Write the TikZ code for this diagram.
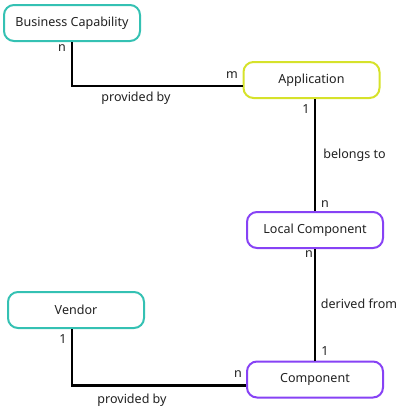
\documentclass[tikz,border=0pt]{standalone}
\usepackage{fontspec}
\setmainfont{Noto Sans}
\usetikzlibrary{positioning}

\definecolor{tealline}{HTML}{34C1B3}
\definecolor{limeline}{HTML}{D6E22A}
\definecolor{purpleline}{HTML}{8742F5}
\definecolor{labeltext}{HTML}{222222}

\tikzset{
    entity/.style={draw, line width=1.5pt, rounded corners=7.5pt, minimum width=102pt,
        minimum height=27pt, inner sep=0pt, fill=white, text=labeltext, font=\fontsize{9.4}{11}\selectfont},
    relation/.style={line width=2.2pt, black},
    tag/.style={text=labeltext, inner sep=0pt, font=\fontsize{9.4}{11}\selectfont}
}

\begin{document}
\begin{tikzpicture}[x=0.75pt, y=-0.75pt]
    \useasboundingbox (0,0) rectangle (400,411);

    % Draw the entities
    \node[entity, draw=tealline] (capability) at (72,23) {Business Capability};
    \node[entity, draw=limeline] (application) at (311.5,80) {Application};
    \node[entity, draw=purpleline] (localcomp) at (315,230) {Local Component};
    \node[entity, draw=tealline] (vendor) at (76,310) {Vendor};
    \node[entity, draw=purpleline] (component) at (315,379.5) {Component};

    % Draw the relations
    \draw[relation] (capability.south) |- ([yshift=-4.5pt]application.west);
    \draw[relation] ([xshift=2.6pt]application.south) -- ([xshift=2.6pt]application.south |- localcomp.north);
    \draw[relation] (localcomp.south) -- (component.north);
    \draw[relation] ([xshift=-3pt]vendor.south) |- ([yshift=-4.8pt]component.west);

    % Draw the multiplicities
    \node[tag] (capn) at (62,48) {n};
    \node[tag] (appm) at (232,75) {m};
    \node[tag] (appone) at (306,109) {1};
    \node[tag] (localn) at (325,204) {n};
    \node[tag] (localn2) at (309,254) {n};
    \node[tag] (compone) at (325,351) {1};
    \node[tag] (vendone) at (63,339) {1};
    \node[tag] (compn) at (238,374) {n};

    % Draw the relation names
    \node[tag] (provA) at (136,98) {provided by};
    \node[tag] (belongs) at (354.5,155) {belongs to};
    \node[tag] (derived) at (359,304) {derived from};
    \node[tag] (provB) at (132,400) {provided by};
\end{tikzpicture}
\end{document}
